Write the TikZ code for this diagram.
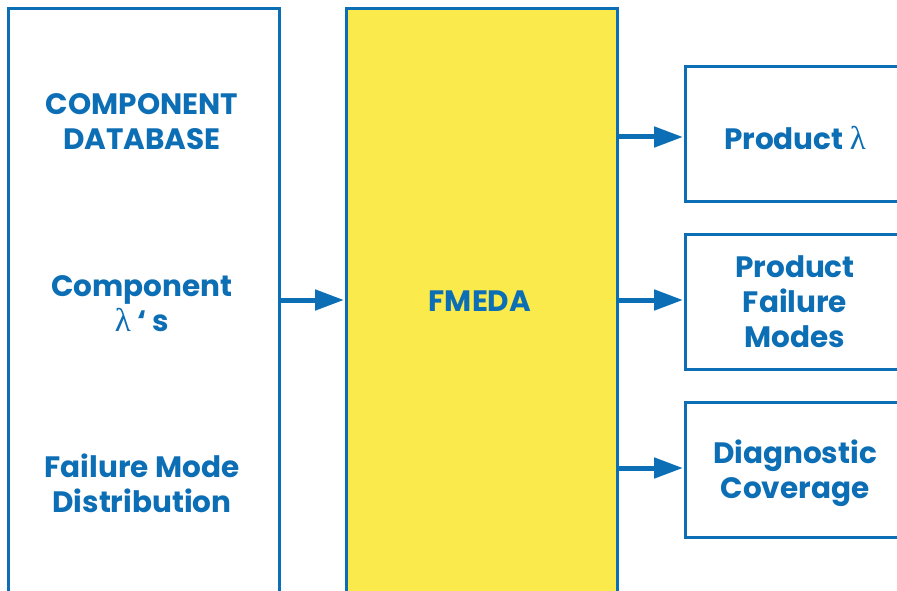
\documentclass[tikz,border=0pt]{standalone}
\usepackage{fontspec}
\setmainfont{Poppins}
\newfontfamily\lam{Liberation Serif}
\usetikzlibrary{arrows.meta}
\definecolor{fblue}{RGB}{12,110,180}
\definecolor{fyellow}{RGB}{250,234,75}
\tikzset{
  box/.style={draw=fblue, line width=3pt, fill=white, inner sep=0pt, anchor=north west},
  lbl/.style={text=fblue, font=\fontsize{29.5}{35}\selectfont\bfseries, align=center, inner sep=0pt},
  arr/.style={draw=fblue, line width=5pt, -{Triangle[length=29pt,width=20pt]}, shorten >=1pt},
}
\newcommand{\lamb}{{\lam\mdseries\fontsize{33}{35}\selectfont λ}}
\begin{document}
\begin{tikzpicture}[x=1pt,y=-1pt]
\useasboundingbox (0,0) rectangle (897,591);
\clip (0,0) rectangle (897,591);
\node[box, minimum width=271pt, minimum height=700pt] (left) at (7,7) {};
\node[box, fill=fyellow, minimum width=271pt, minimum height=700pt] (mid) at (345,7) {};
\node[box, minimum width=271pt, minimum height=135pt] (r1) at (684,65) {};
\node[box, minimum width=271pt, minimum height=135pt] (r2) at (684,233) {};
\node[box, minimum width=271pt, minimum height=135pt] (r3) at (684,401) {};

\node[lbl] (t1) at (142,122) {COMPONENT\\DATABASE};
\node[lbl] (t2) at (142,304) {Component\\\lamb\ ‘ s};
\node[lbl] (t3) at (142,483) {Failure Mode\\Distribution};
\node[lbl] (fm) at (480,301) {FMEDA};
\node[lbl] (p1) at (795,138) {Product \lamb};
\node[lbl] (p2) at (795,302) {Product\\Failure\\Modes};
\node[lbl] (p3) at (795,473) {Diagnostic\\Coverage};

\coordinate (a0) at (278,300);
\coordinate (a1) at (616,137);
\coordinate (a2) at (616,300);
\coordinate (a3) at (616,468);
\draw[arr] (a0) -- (mid.west |- a0);
\draw[arr] (a1) -- (r1.west |- a1);
\draw[arr] (a2) -- (r2.west |- a2);
\draw[arr] (a3) -- (r3.west |- a3);
\end{tikzpicture}
\end{document}
